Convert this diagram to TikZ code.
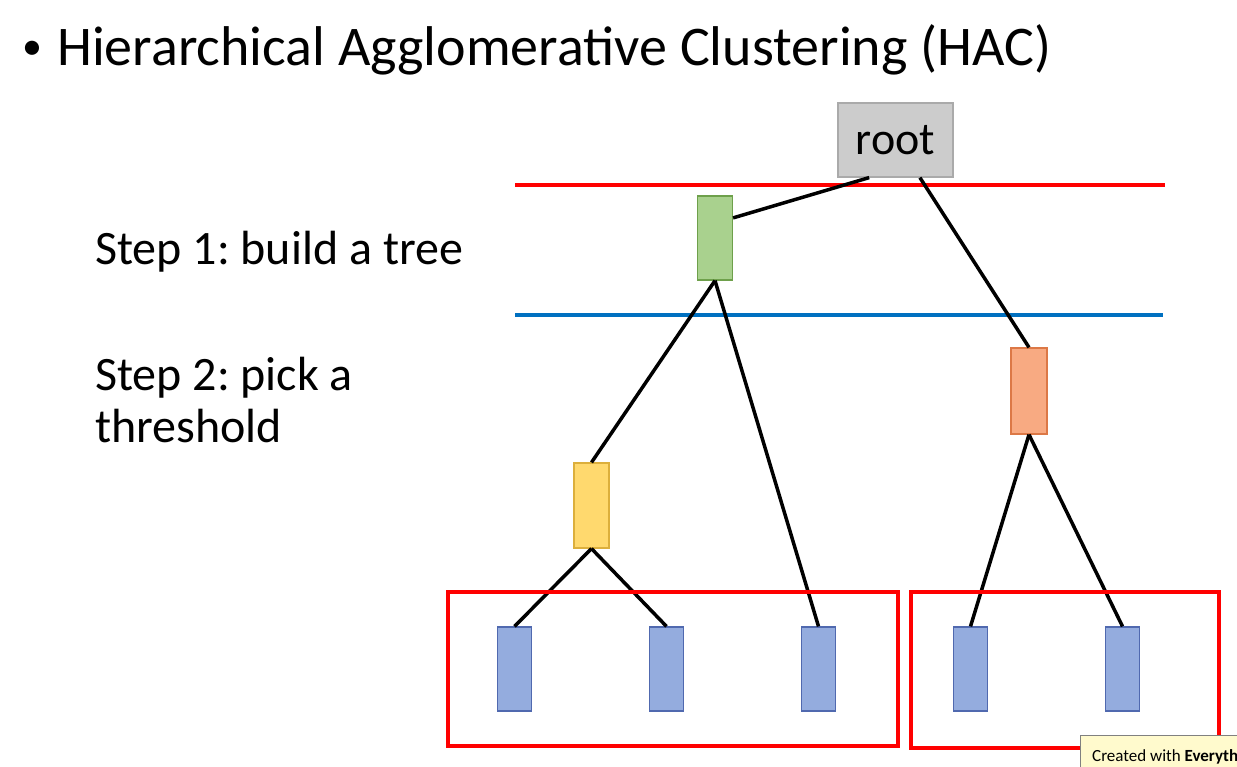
\documentclass[tikz,border=0pt]{standalone}
\usepackage{fontspec}
\setmainfont{Carlito}
\frenchspacing
\usetikzlibrary{positioning}
\definecolor{rootgray}{RGB}{204,204,204}
\definecolor{rootline}{RGB}{170,170,170}
\definecolor{greenfill}{RGB}{169,209,142}
\definecolor{greenline}{RGB}{110,160,75}
\definecolor{orangefill}{RGB}{248,170,130}
\definecolor{orangeline}{RGB}{220,120,70}
\definecolor{yellowfill}{RGB}{255,217,110}
\definecolor{yellowline}{RGB}{220,175,60}
\definecolor{leaffill}{RGB}{148,172,222}
\definecolor{leafline}{RGB}{80,105,175}
\definecolor{cutblue}{RGB}{0,112,192}
\definecolor{notefill}{RGB}{255,250,205}
\tikzset{
  box/.style = {rectangle, draw, line width=1.2pt, inner sep=0pt,
    minimum width=35pt, minimum height=85pt},
  leaf/.style = {box, fill=leaffill, draw=leafline,
    minimum width=34pt, minimum height=84pt},
  cluster/.style = {rectangle, draw=red, line width=4pt, inner sep=0pt},
  link/.style = {black, line width=3.5pt},
  cut/.style = {line width=4pt},
  words/.style = {anchor=base west, inner sep=0pt, font=\fontsize{48}{52}\selectfont}
}
\begin{document}
\begin{tikzpicture}[x=1pt, y=-1pt]
  \useasboundingbox (0,0) rectangle (1237,766);
  \clip (0,0) rectangle (1237,766);
  % Texts
  \node [words, font=\fontsize{40}{40}\selectfont] (bullet) at (22,59) {•};
  \node [words, font=\fontsize{56}{60}\selectfont] (title) at (57,65)
  {Hierarchical Agglomerative Clustering (HAC)};
  \node [words] (step1) at (95,264) {Step 1: build a tree};
  \node [words, align=left] (step2) at (95,442)
  {Step 2: pick a\\threshold};
  % Thresholds
  \draw [cut, red] (515,185) coordinate (redL) -- (1165,185) coordinate (redR);
  \draw [cut, cutblue] (515,315) coordinate (blueL) -- (1163,315) coordinate (blueR);
  % Place nodes
  \node [box, fill=rootgray, draw=rootline, minimum width=115pt,
  minimum height=74pt, font=\fontsize{46}{50}\selectfont] (root) at (895.5,140) {root};
  \node [box, fill=greenfill, draw=greenline, minimum height=84pt] (green) at (715,238) {};
  \node [box, fill=orangefill, draw=orangeline, minimum width=36pt,
  minimum height=86pt] (orange) at (1029,391) {};
  \node [box, fill=yellowfill, draw=yellowline] (yellow) at (591.5,505.5) {};
  \node [leaf] (leafA) at (514.5,669) {};
  \node [leaf, right of=leafA, node distance=152pt] (leafB) {};
  \node [leaf, right of=leafB, node distance=152pt] (leafC) {};
  \node [leaf, right of=leafC, node distance=152pt] (leafD) {};
  \node [leaf, right of=leafD, node distance=152pt] (leafE) {};
  % Draw edges
  \draw [link] (root.235) -- (green.48);
  \draw [link] (root.303) -- (orange.north);
  \draw [link] (green.south) -- (yellow.north);
  \draw [link] (green.south) -- (leafC.north);
  \draw [link] (yellow.south) -- (leafA.north);
  \draw [link] (yellow.south) -- (leafB.north);
  \draw [link] (orange.south) -- (leafD.north);
  \draw [link] (orange.south) -- (leafE.north);
  % Clusters
  \node [cluster, minimum width=450pt, minimum height=154pt] (clusterA) at (673,669) {};
  \node [cluster, minimum width=308pt, minimum height=156pt] (clusterB) at (1065,670) {};
  % Watermark
  \node [draw=gray, fill=notefill, anchor=north west, inner xsep=12pt,
  inner ysep=4pt, minimum height=40pt, text depth=0pt, align=left,
  font=\fontsize{17}{20}\selectfont] (note) at (1080,735)
  {Created with \textbf{Everything}};
\end{tikzpicture}
\end{document}
